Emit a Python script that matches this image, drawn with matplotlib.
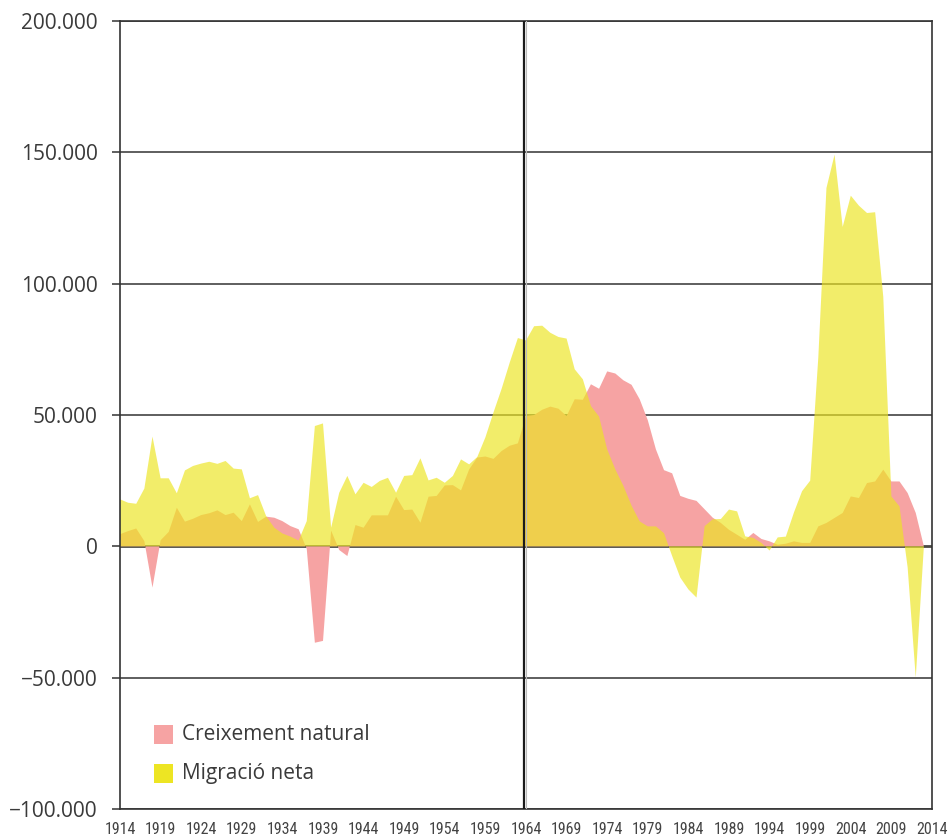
import matplotlib
matplotlib.use("Agg")
import matplotlib.pyplot as plt
from matplotlib.patches import Rectangle
from matplotlib.ticker import FixedLocator, FuncFormatter
import numpy as np

years = list(range(1914, 2014))

# Creixement natural (thousands)
natural = [
    4.6, 5.8, 6.8, 2.0, -15.7, 2.3, 5.5, 14.7, 9.4, 10.5,       # 1914-1923
    11.9, 12.6, 13.7, 11.9, 12.8, 9.6, 16.0, 9.3, 11.3, 10.9,   # 1924-1933
    9.6, 7.7, 6.5, -1.0, -36.7, -36.0, 6.0, -1.4, -3.7, 8.1,    # 1934-1943
    7.1, 11.8, 11.8, 11.8, 18.9, 13.8, 14.0, 9.0, 18.9, 19.2,   # 1944-1953
    23.2, 23.3, 21.3, 29.3, 33.8, 34.2, 33.3, 36.3, 38.3, 39.2, # 1954-1963
    49.6, 50.0, 52.0, 53.2, 52.4, 49.6, 56.0, 55.8, 61.7, 60.0, # 1964-1973
    66.6, 65.8, 63.2, 61.5, 56.0, 48.0, 36.9, 29.0, 27.8, 19.2, # 1974-1983
    18.1, 17.3, 14.1, 10.9, 8.9, 6.3, 4.4, 2.5, 5.1, 2.8,       # 1984-1993
    1.9, 0.6, 1.0, 1.9, 1.3, 1.3, 7.6, 8.9, 10.8, 12.7,         # 1994-2003
    19.0, 18.4, 24.1, 24.7, 29.2, 24.7, 24.7, 20.3, 12.7, 0.0,  # 2004-2013
]

# Migració neta (thousands)
migration = [
    17.9, 16.6, 16.2, 22.0, 41.8, 25.9, 25.9, 20.2, 28.9, 30.6,   # 1914-1923
    31.5, 32.2, 31.4, 32.5, 29.6, 29.3, 18.3, 19.5, 11.5, 7.1,    # 1924-1933
    4.9, 3.7, 2.2, 9.6, 45.8, 46.8, 7.1, 20.4, 26.8, 19.8,        # 1934-1943
    24.2, 22.6, 24.9, 26.1, 20.4, 26.8, 27.1, 33.5, 25.1, 26.1,   # 1944-1953
    24.2, 26.8, 33.1, 31.2, 34.0, 41.5, 51.0, 60.0, 70.0, 79.3,   # 1954-1963
    78.4, 83.8, 84.0, 81.3, 79.7, 79.1, 67.4, 63.6, 53.4, 49.4,   # 1964-1973
    36.9, 29.3, 23.0, 15.5, 9.5, 7.6, 7.6, 5.0, -3.7, -11.9,      # 1974-1983
    -16.4, -19.5, 7.7, 10.3, 10.4, 14.0, 13.3, 3.8, 3.2, 1.3,     # 1984-1993
    -1.6, 3.4, 3.7, 12.9, 21.0, 25.0, 72.0, 136.4, 149.1, 121.6,  # 1994-2003
    133.5, 129.7, 126.9, 127.2, 95.0, 19.0, 15.2, -8.0, -50.0, 0.0, # 2004-2013
]

series_labels = ["Creixement natural", "Migració neta"]
y_ticks = [-100000, -50000, 0, 50000, 100000, 150000, 200000]
x_ticks = list(range(1914, 2015, 5))

red = "#F6A3A3"
yellow = "#EDE523"
text_color = "#3a3a3a"
grid_color = "#333333"

yrs = np.array(years)
nat = np.array(natural) * 1000
mig = np.array(migration) * 1000

fig = plt.figure(figsize=(9.51, 8.38), dpi=100)
ax = fig.add_axes([120 / 951, 29 / 838, (932 - 120) / 951, (809 - 21) / 838])

ax.set_xlim(1914, 2014)
ax.set_ylim(-100000, 200000)

# grid lines (below fills)
for v in y_ticks:
    lw = 2.0 if v == 0 else 1.1
    col = "#4a4a44" if v == 0 else grid_color
    ax.axhline(v, color=col, lw=lw, zorder=0.5)

ax.fill_between(yrs, 0, nat, facecolor=red, edgecolor="none", lw=0, zorder=1)
ax.fill_between(yrs, 0, mig, facecolor=yellow, edgecolor="none", lw=0, alpha=0.68, zorder=2)

ax.axvline(1963.8, color="#1a1a1a", lw=1.6, zorder=5)
ax.axvline(1964.05, color="#bbbbbb", lw=0.8, zorder=5)

for s in ax.spines.values():
    s.set_color(grid_color)
    s.set_linewidth(1.2)

def fmt(v, pos=None):
    if v == 0:
        return "0"
    s = f"{abs(v):,.0f}".replace(",", ".")
    return ("\u2212" if v < 0 else "") + s

ax.yaxis.set_major_locator(FixedLocator(y_ticks))
ax.yaxis.set_major_formatter(FuncFormatter(fmt))
ax.xaxis.set_major_locator(FixedLocator(x_ticks))
ax.set_xticklabels([str(x) for x in x_ticks])

ax.tick_params(axis="y", direction="out", length=6, width=1.1, color=grid_color,
               pad=10, labelsize=15, labelcolor=text_color)
ax.tick_params(axis="x", length=0, pad=9, labelsize=11.5, labelcolor="#444444")
for lab in ax.get_yticklabels():
    lab.set_fontfamily(["Open Sans", "DejaVu Sans"])
for lab in ax.get_xticklabels():
    lab.set_fontfamily(["Liberation Sans Narrow", "DejaVu Sans Condensed",
                        "Roboto Condensed", "Liberation Sans"])
    lab.set_fontstretch("condensed")

# legend
W, H = 951, 838
for (y0, col, lab) in [(725, red, series_labels[0]), (764, yellow, series_labels[1])]:
    fig.patches.append(Rectangle((154 / W, (H - y0 - 18.5) / H), 19 / W, 18.5 / H,
                                 transform=fig.transFigure, facecolor=col, edgecolor="none"))
    fig.text(182 / W, (H - y0 - 9) / H, lab, fontsize=15, color=text_color,
             family=["Open Sans", "DejaVu Sans"], va="center", ha="left")

fig.savefig("out.png", dpi=100)
